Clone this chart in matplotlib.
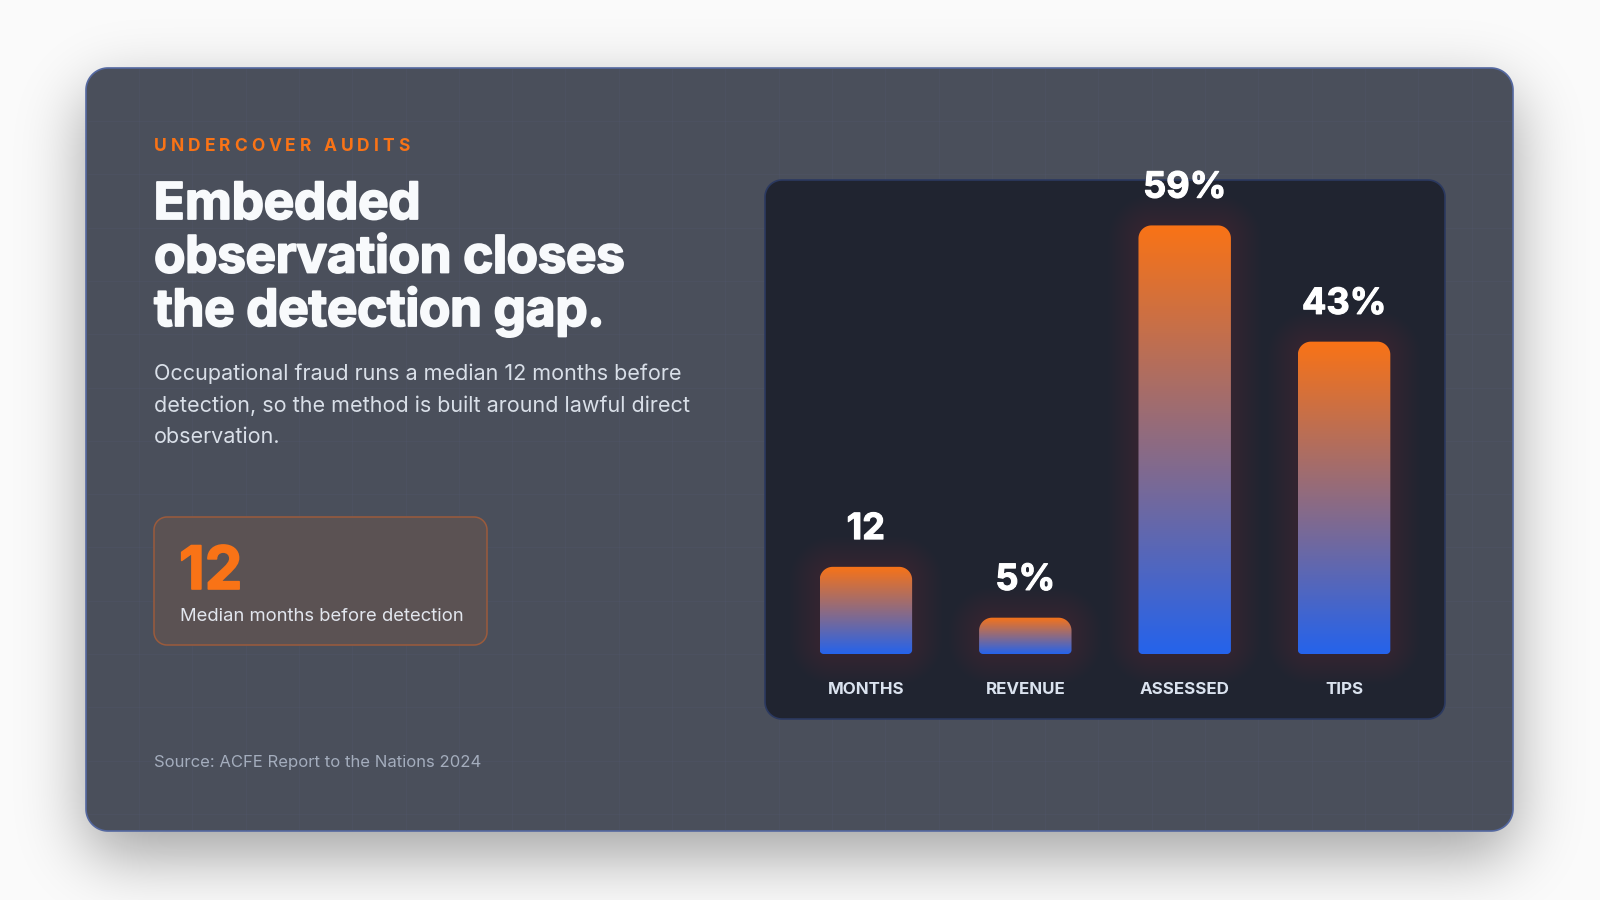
import numpy as np
import matplotlib
matplotlib.use("Agg")
import matplotlib.pyplot as plt
import matplotlib.patheffects as pe
from matplotlib.patches import Polygon
from matplotlib.colors import to_rgb
from matplotlib.font_manager import FontProperties

# chart data
categories = ["MONTHS", "REVENUE", "ASSESSED", "TIPS"]
values = [12, 5, 59, 43]
value_labels = ["12", "5%", "59%", "43%"]

# copy
eyebrow = "UNDERCOVER AUDITS"
title_lines = ["Embedded", "observation closes", "the detection gap."]
body_lines = ["Occupational fraud runs a median 12 months before",
              "detection, so the method is built around lawful direct",
              "observation."]
stat_value = "12"
stat_label = "Median months before detection"
source = "Source: ACFE Report to the Nations 2024"

ORANGE = "#f97316"
BLUE = "#2563eb"
CARD = "#4a4f5b"
PANEL = "#202430"

plt.rcParams["font.family"] = ["Inter", "DejaVu Sans"]

W, H = 1600, 900
fig = plt.figure(figsize=(16, 9), dpi=100)
fig.patch.set_facecolor("#fafafa")
bg = fig.add_axes([0, 0, 1, 1])
bg.set_xlim(0, W)
bg.set_ylim(H, 0)
bg.axis("off")
rend = fig.canvas.get_renderer()


def round_rect(x0, y0, x1, y1, rt, rb=None, n=20):
    """points of a rounded rectangle in y-down pixel coords"""
    if rb is None:
        rb = rt
    pts = []
    for cx, cy, r, a0 in [(x0 + rt, y0 + rt, rt, np.pi), (x1 - rt, y0 + rt, rt, 1.5 * np.pi),
                          (x1 - rb, y1 - rb, rb, 0.0), (x0 + rb, y1 - rb, rb, 0.5 * np.pi)]:
        t = np.linspace(a0, a0 + 0.5 * np.pi, n)
        pts.append(np.column_stack([cx + r * np.cos(t), cy + r * np.sin(t)]))
    return np.vstack(pts)


def tracked_text(x, y, s, spacing, size, weight="normal", **kw):
    fp = FontProperties(family=["Inter", "DejaVu Sans"], size=size, weight=weight)
    w0 = rend.get_text_width_height_descent("HH", fp, ismath=False)[0]
    for ch in s:
        bg.text(x, y, ch, fontproperties=fp, va="baseline", **kw)
        adv = rend.get_text_width_height_descent("H" + ch + "H", fp, ismath=False)[0] - w0
        x += adv + spacing


# card shadow: blurred mask of the card
cx0, cy0, cx1, cy1, cr = 86, 68, 1513, 831, 22
yy, xx = np.mgrid[0:H, 0:W] + 0.5
off = 24
dx = np.maximum(np.maximum(cx0 + cr - xx, xx - (cx1 - cr)), 0)
dy = np.maximum(np.maximum(cy0 + off + cr - yy, yy - (cy1 + off - cr)), 0)
mask = (dx ** 2 + dy ** 2 <= cr ** 2).astype(float)
P = 200
m = np.pad(mask, P)
fy = np.fft.fftfreq(m.shape[0])[:, None]
fx = np.fft.rfftfreq(m.shape[1])[None, :]
sig = 32
blur = np.fft.irfft2(np.fft.rfft2(m) * np.exp(-2 * np.pi ** 2 * sig ** 2 * (fx ** 2 + fy ** 2)),
                     s=m.shape)[P:-P, P:-P]
shadow = np.zeros((H, W, 4))
shadow[..., 3] = np.clip(blur, 0, 1) * 0.36
bg.imshow(shadow, extent=(0, W, H, 0), aspect="auto", zorder=1, interpolation="bilinear")

# card
bg.add_patch(Polygon(round_rect(cx0, cy0, cx1, cy1, cr), closed=True, fc=CARD, ec="#5468a0", lw=1.2, zorder=2))
for gx in np.arange(cx0 + 53, cx1, 53.3):
    bg.plot([gx, gx], [cy0 + 1, cy1 - 1], color="#56607a", lw=0.6, alpha=0.2, zorder=2.1)
for gy in np.arange(cy0 + 53, cy1, 53.3):
    bg.plot([cx0 + 2, cx1 - 2], [gy, gy], color="#56607a", lw=0.6, alpha=0.2, zorder=2.1)

# left copy
tracked_text(154, 151, eyebrow, 4.0, 12.5, "bold", color=ORANGE, zorder=5)
stroke = [pe.withStroke(linewidth=1.3, foreground="#f8fafc")]
for i, line in enumerate(title_lines):
    tracked_text(154, 219 + i * 53.5, line, -0.3, 37, "bold", color="#f8fafc", zorder=5,
                 path_effects=stroke)
for i, line in enumerate(body_lines):
    bg.text(154, 380 + i * 31.5, line, color="#d9dfe8", fontsize=15.5, va="baseline", zorder=5)

# stat box
bg.add_patch(Polygon(round_rect(154, 517, 487, 645, 13), closed=True, fc="#5b5253", ec="#9b5b3c",
                     lw=1.1, zorder=3))
bg.text(179, 589, stat_value, color=ORANGE, fontsize=43, fontweight="bold", va="baseline", zorder=5,
        path_effects=[pe.withStroke(linewidth=1.2, foreground=ORANGE)])
bg.text(180, 621, stat_label, color="#e2e6ee", fontsize=13.3, va="baseline", zorder=5)

bg.text(154, 767, source, color="#a4adbd", fontsize=12.0, va="baseline", zorder=5)

# chart panel
px0, py0, px1, py1 = 765, 180, 1445, 719
bg.add_patch(Polygon(round_rect(px0, py0, px1, py1, 17), closed=True, fc=PANEL, ec="#2b3960",
                     lw=1.2, zorder=3))

# bar axes: baseline at y=654px, 7.264 px per unit
base_y = 654
ax = fig.add_axes([px0 / W, 1 - base_y / H, (px1 - px0) / W, (base_y - py0) / H])
ax.set_xlim(-0.633, 3.633)
ax.set_ylim(0, (base_y - py0) / 7.264)
ax.axis("off")
ax.patch.set_visible(False)
bars = ax.bar(range(len(values)), values, width=0.58, color="none")

to_bg = bg.transData.inverted()
c_top = np.array(to_rgb(ORANGE))
c_bot = np.array(to_rgb(BLUE))
grad = np.linspace(0, 1, 256)[:, None, None] * (c_bot - c_top) + c_top

for i, b in enumerate(bars):
    (x0, y1), (x1, y0) = to_bg.transform(ax.transData.transform([(b.get_x(), 0),
                                                                  (b.get_x() + b.get_width(), b.get_height())]))
    h = y1 - y0
    rt = min(13, h / 2)
    # soft glow
    for k in range(18):
        g = 30 - k * 1.6
        bg.add_patch(Polygon(round_rect(x0 - g, y0 - g, x1 + g, y1 + g, rt + g), closed=True,
                             fc="#c0745c", ec="none", alpha=0.012, zorder=3.2))
    shape = Polygon(round_rect(x0, y0, x1, y1, rt, 4), closed=True, fc="none", ec="none", zorder=4)
    bg.add_patch(shape)
    im = bg.imshow(grad, extent=(x0, x1, y1, y0), aspect="auto", zorder=4, interpolation="bilinear")
    im.set_clip_path(shape)
    ax.annotate(value_labels[i], (i, values[i]), xytext=(0, 20), textcoords="offset points",
                ha="center", va="baseline", color="#ffffff", fontsize=26, fontweight="bold",
                path_effects=[pe.withStroke(linewidth=0.8, foreground="#ffffff")])
    ax.annotate(categories[i], (i, 0), xytext=(0, -29), textcoords="offset points",
                ha="center", va="baseline", color="#dbe3ef", fontsize=12.2, fontweight="bold")

bg.set_xlim(0, W)
bg.set_ylim(H, 0)
fig.savefig("out.png", dpi=100, facecolor=fig.get_facecolor())
